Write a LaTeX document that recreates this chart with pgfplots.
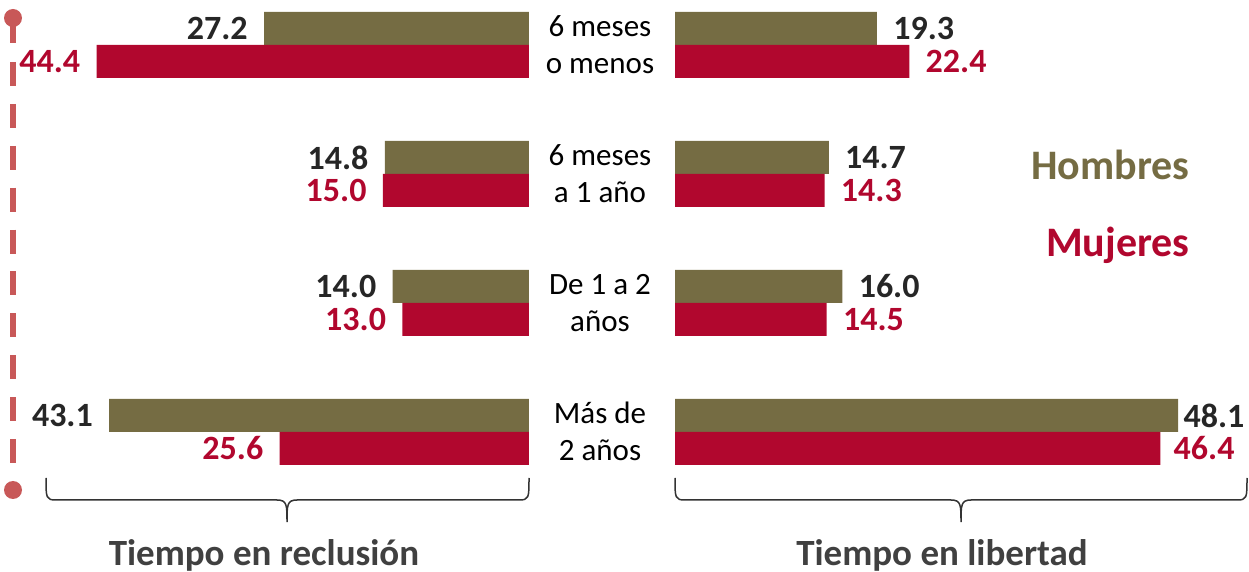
\documentclass[border=0pt]{standalone}
\usepackage{pgfplots}
\usepackage{pgfplotstable}
\pgfplotsset{compat=1.18}
\usepackage{fontspec}
\setmainfont{Carlito}
\definecolor{olive}{HTML}{756C43}
\definecolor{wine}{HTML}{B1072E}
\definecolor{darktxt}{HTML}{262626}
\definecolor{dashred}{HTML}{C85858}
\definecolor{graytxt}{HTML}{404040}
% libertad: value, category position, label gap (pt)
\pgfplotstableread{
x y gap
19.3 3 8
14.7 2 8
16.0 1 8
48.1 0 2.5
}\libH
\pgfplotstableread{
x y gap
22.4 3 8
14.3 2 8
14.5 1 8
46.4 0 6.5
}\libM
\begin{document}
\begin{tikzpicture}
\useasboundingbox (0,0) rectangle (624.5pt,-286pt);
\pgfplotsset{
  mybars/.style={
    scale only axis, hide axis, clip=false,
    xbar, bar width=16.5pt, ymin=-0.5, ymax=3.5, height=258pt, xmin=0,
    /pgf/number format/assume math mode=true,
    nodes near coords={\pgfmathprintnumber[fixed,fixed zerofill,precision=1]{\pgfplotspointmeta}},
    nodes near coords style={font=\fontsize{17}{18}\selectfont\bfseries, inner sep=0pt},
  }
}
% Tiempo en reclusion
\begin{axis}[mybars, x dir=reverse, xmax=50, width=243.5pt,
  anchor=north east, at={(264.5pt,9.75pt)},
  nodes near coords style={anchor=east, xshift=-8pt}]
\addplot[fill=olive, draw=none, bar shift=8.25pt,
  nodes near coords style={text=darktxt}]
  coordinates {(27.2,3) (14.8,2) (14.0,1) (43.1,0)};
\addplot[fill=wine, draw=none, bar shift=-8.25pt,
  nodes near coords style={text=wine}]
  coordinates {(44.4,3) (15.0,2) (13.0,1) (25.6,0)};
\end{axis}
% Tiempo en libertad
\begin{axis}[mybars, xmax=55, width=287.65pt,
  anchor=north west, at={(337.5pt,9.75pt)},
  nodes near coords style={anchor=west}]
\addplot[fill=olive, draw=none, bar shift=8.25pt,
  visualization depends on={\thisrow{gap} \as \labgap},
  nodes near coords style={text=darktxt, xshift=\labgap pt}]
  table[x=x, y=y] {\libH};
\addplot[fill=wine, draw=none, bar shift=-8.25pt,
  visualization depends on={\thisrow{gap} \as \labgap},
  nodes near coords style={text=wine, xshift=\labgap pt}]
  table[x=x, y=y] {\libM};
\end{axis}
\begin{scope}[x=0.5pt,y=-0.5pt]
  % category labels
  \begin{scope}[every node/.style={anchor=base, inner sep=0pt, font=\fontsize{15.5}{18}\selectfont, text=black}]
    \node at (600,37) {6 meses};
    \node at (600,74) {o menos};
    \node at (600,166) {6 meses};
    \node at (600,203) {a 1 año};
    \node at (600,295) {De 1 a 2};
    \node at (600,332) {años};
    \node at (600,424) {Más de};
    \node at (600,461) {2 años};
  \end{scope}
  % legend
  \node[anchor=base east, inner sep=0pt, font=\fontsize{21}{22}\selectfont\bfseries, text=olive] at (1190,180) {Hombres};
  \node[anchor=base east, inner sep=0pt, font=\fontsize{21}{22}\selectfont\bfseries, text=wine] at (1190,257) {Mujeres};
  % dashed timeline
  \fill[dashred] (13,18) circle (4.5pt);
  \draw[dashred, line width=3pt] (13,18) -- (13,43);
  \draw[dashred, line width=3pt, dash pattern=on 12pt off 8.95pt] (13,62) -- (13,470);
  \fill[dashred] (13,490) circle (4.5pt);
  % braces
  \draw[black!80, line width=0.75pt]
    (46,478) .. controls (46,498) and (46,500) .. (56,500) -- (277,500)
    .. controls (287,500) and (287,505) .. (287,522)
    .. controls (287,505) and (287,500) .. (297,500) -- (519,500)
    .. controls (529,500) and (529,498) .. (529,478);
  \draw[black!80, line width=0.75pt]
    (675,478) .. controls (675,498) and (675,500) .. (685,500) -- (951,500)
    .. controls (961,500) and (961,505) .. (961,522)
    .. controls (961,505) and (961,500) .. (971,500) -- (1237,500)
    .. controls (1247,500) and (1247,498) .. (1247,478);
  % titles
  \node[anchor=base, inner sep=0pt, font=\fontsize{18.5}{20}\selectfont\bfseries, text=graytxt] at (264,565) {Tiempo en reclusión};
  \node[anchor=base, inner sep=0pt, font=\fontsize{18.5}{20}\selectfont\bfseries, text=graytxt] at (942,565) {Tiempo en libertad};
\end{scope}
\end{tikzpicture}
\end{document}
